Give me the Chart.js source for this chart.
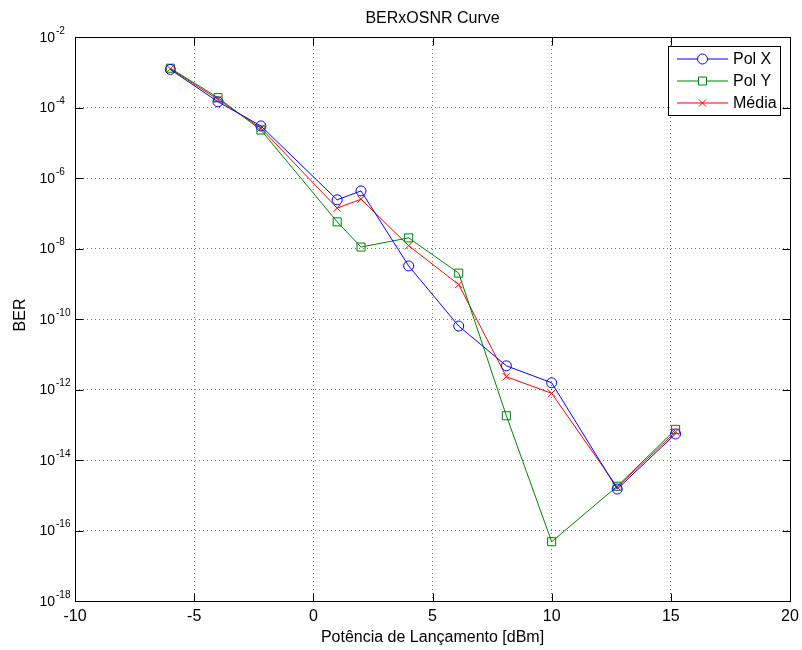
<!DOCTYPE html>
<html>
<head>
<meta charset="utf-8">
<script src="https://cdn.jsdelivr.net/npm/chart.js@4/dist/chart.umd.min.js"></script>
<style>
  html, body { margin: 0; padding: 0; background: #fff; }
  #wrap { width: 802px; height: 650px; }
</style>
</head>
<body>
<div id="wrap"><canvas id="berChart" width="802" height="650"></canvas></div>
<script>
// launch power (dBm) and measured BER per polarisation
const powerDbm = [-6, -4, -2.2, 1, 2, 4, 6.1, 8.1, 10, 12.75, 15.2];
const berPolX = [1.2e-3, 1.45e-4, 3.0e-5, 2.4e-7, 4.3e-7, 3.2e-9, 6.3e-11, 4.7e-12, 1.55e-12, 1.5e-15, 5.5e-14];
const berPolY = [1.3e-3, 1.9e-4, 2.3e-5, 5.7e-8, 1.1e-8, 2.0e-8, 2.0e-9, 1.8e-13, 4.8e-17, 1.8e-15, 7.4e-14];
const berMedia = [1.25e-3, 1.7e-4, 2.6e-5, 1.4e-7, 2.5e-7, 1.2e-8, 9.5e-10, 2.3e-12, 7.8e-13, 1.7e-15, 6.3e-14];

const xTicks = [-10, -5, 0, 5, 10, 15, 20];
const yExponents = [-2, -4, -6, -8, -10, -12, -14, -16, -18];

const seriesNames = ['Pol X', 'Pol Y', 'Média'];
const FONT = '"Liberation Sans", Arial, Helvetica, sans-serif';

function pairs(ys) {
    return powerDbm.map((x, i) => ({ x: x, y: ys[i] }));
}

// matlab-like frame, inward ticks, tick labels, titles and legend
const matlabAxes = {
    id: 'matlabAxes',
    afterDraw(chart) {
        const ctx = chart.ctx;
        const area = chart.chartArea;
        const xs = chart.scales.x;
        const ys = chart.scales.y;
        const L = Math.round(area.left) + 0.5;
        const R = Math.round(area.right) + 0.5;
        const T = Math.round(area.top) + 0.5;
        const B = Math.round(area.bottom) + 0.5;
        const tickLen = 8;

        ctx.save();
        ctx.strokeStyle = '#000';
        ctx.lineWidth = 1;
        ctx.strokeRect(L, T, R - L, B - T);

        ctx.beginPath();
        xTicks.forEach(v => {
            const px = Math.round(xs.getPixelForValue(v)) + 0.5;
            ctx.moveTo(px, B); ctx.lineTo(px, B - tickLen);
            ctx.moveTo(px, T); ctx.lineTo(px, T + tickLen);
        });
        yExponents.forEach(e => {
            const py = Math.round(ys.getPixelForValue(Math.pow(10, e))) + 0.5;
            ctx.moveTo(L, py); ctx.lineTo(L + tickLen, py);
            ctx.moveTo(R, py); ctx.lineTo(R - tickLen, py);
        });
        ctx.stroke();

        ctx.fillStyle = '#000';

        // x tick labels
        ctx.font = '16px ' + FONT;
        ctx.textAlign = 'center';
        ctx.textBaseline = 'middle';
        xTicks.forEach(v => {
            ctx.fillText(String(v), xs.getPixelForValue(v), area.bottom + 16);
        });

        // y tick labels as 10 with superscript exponent
        yExponents.forEach(e => {
            const py = ys.getPixelForValue(Math.pow(10, e));
            ctx.font = '14px ' + FONT;
            ctx.textAlign = 'right';
            ctx.textBaseline = 'middle';
            ctx.fillText('10', 55, py + 1);
            ctx.font = '10px ' + FONT;
            ctx.textAlign = 'left';
            ctx.fillText(String(e), 56, py - 6);
        });

        // titles
        ctx.font = '16px ' + FONT;
        ctx.textAlign = 'center';
        ctx.textBaseline = 'middle';
        ctx.fillText('BERxOSNR Curve', (area.left + area.right) / 2, 19);
        ctx.fillText('Potência de Lançamento [dBm]', (area.left + area.right) / 2, 638);

        ctx.save();
        ctx.translate(21, (area.top + area.bottom) / 2 - 4);
        ctx.rotate(-Math.PI / 2);
        ctx.fillText('BER', 0, 0);
        ctx.restore();

        // legend box in the top right corner
        const bx = 668.5, by = 46.5, bw = 112, bh = 69;
        ctx.fillStyle = '#fff';
        ctx.fillRect(bx, by, bw, bh);
        ctx.strokeStyle = '#000';
        ctx.strokeRect(bx, by, bw, bh);

        chart.data.datasets.forEach((ds, i) => {
            const rowY = 59 + i * 22;
            const color = ds.pointBorderColor;
            ctx.strokeStyle = color;
            ctx.lineWidth = 1;
            ctx.beginPath();
            ctx.moveTo(677, rowY);
            ctx.lineTo(728, rowY);
            ctx.stroke();
            const cx = 702.5;
            ctx.beginPath();
            if (ds.pointStyle === 'circle') {
                ctx.arc(cx, rowY, 5, 0, Math.PI * 2);
            } else if (ds.pointStyle === 'rect') {
                ctx.rect(cx - 4, rowY - 4, 8, 8);
            } else {
                ctx.moveTo(cx - 3.5, rowY - 3.5); ctx.lineTo(cx + 3.5, rowY + 3.5);
                ctx.moveTo(cx + 3.5, rowY - 3.5); ctx.lineTo(cx - 3.5, rowY + 3.5);
            }
            ctx.fillStyle = '#fff';
            if (ds.pointStyle !== 'crossRot') ctx.fill();
            ctx.strokeStyle = color;
            ctx.stroke();

            ctx.fillStyle = '#000';
            ctx.font = '16px ' + FONT;
            ctx.textAlign = 'left';
            ctx.textBaseline = 'middle';
            ctx.fillText(ds.label, 733, rowY + 1);
        });
        ctx.restore();
    }
};

function makeSeries(label, ys, color, style, radius) {
    return {
        label: label,
        data: pairs(ys),
        borderColor: color,
        backgroundColor: 'rgba(0,0,0,0)',
        borderWidth: 1,
        pointStyle: style,
        pointRadius: radius,
        pointBorderWidth: 1,
        pointBackgroundColor: 'rgba(0,0,0,0)',
        pointBorderColor: color,
        tension: 0
    };
}

const gridStyle = { color: 'rgba(0,0,0,0.55)', drawTicks: false, lineWidth: 1 };

new Chart(document.getElementById('berChart'), {
    type: 'line',
    data: {
        datasets: [
            makeSeries(seriesNames[0], berPolX, 'rgb(0,0,255)', 'circle', 5),
            makeSeries(seriesNames[1], berPolY, 'rgb(0,128,0)', 'rect', 5.7),
            makeSeries(seriesNames[2], berMedia, 'rgb(255,0,0)', 'crossRot', 5)
        ]
    },
    options: {
        responsive: false,
        animation: false,
        events: [],
        layout: { padding: { left: 75, top: 37, right: 12, bottom: 49 } },
        plugins: {
            legend: { display: false },
            title: { display: false },
            tooltip: { enabled: false }
        },
        scales: {
            x: {
                type: 'linear',
                min: -10,
                max: 20,
                afterBuildTicks: (scale) => { scale.ticks = xTicks.map(v => ({ value: v })); },
                ticks: { display: false },
                grid: gridStyle,
                border: { display: false, dash: [1, 3] }
            },
            y: {
                type: 'logarithmic',
                min: 1e-18,
                max: 1e-2,
                afterBuildTicks: (scale) => { scale.ticks = yExponents.map(e => ({ value: Math.pow(10, e) })); },
                ticks: { display: false },
                grid: gridStyle,
                border: { display: false, dash: [1, 3] }
            }
        }
    },
    plugins: [matlabAxes]
});
</script>
</body>
</html>
